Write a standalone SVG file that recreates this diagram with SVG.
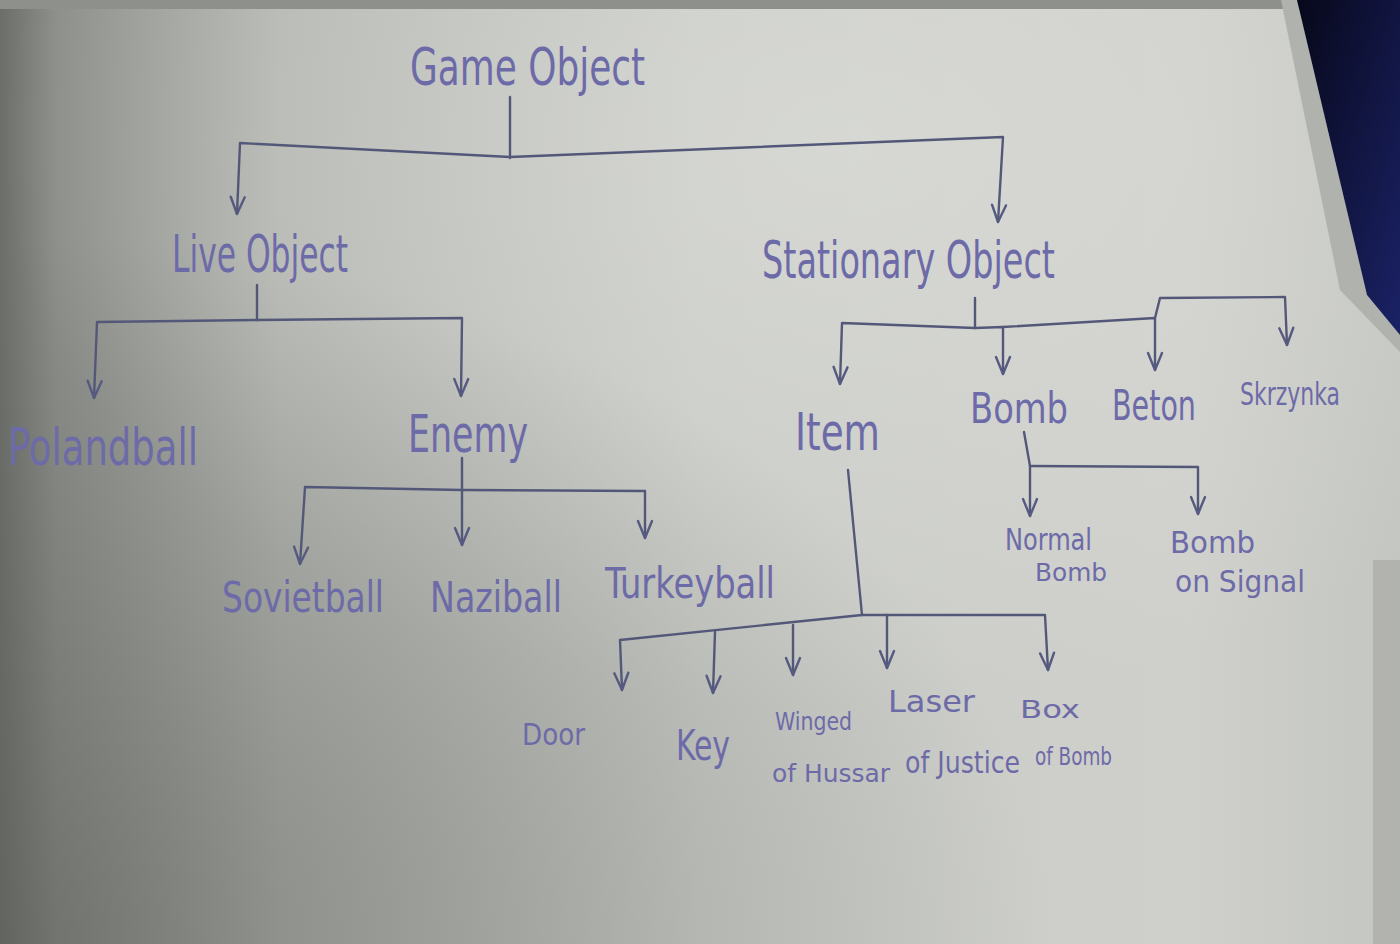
<svg xmlns="http://www.w3.org/2000/svg" width="1400" height="944" viewBox="0 0 1400 944">
<defs>
<linearGradient id="paperH" x1="0" y1="0" x2="1" y2="0">
<stop offset="0" stop-color="#6c6e6a"/>
<stop offset="0.04" stop-color="#8c8e8a"/>
<stop offset="0.2" stop-color="#b4b6b1"/>
<stop offset="0.5" stop-color="#c9cbc7"/>
<stop offset="0.85" stop-color="#cfd0cc"/>
<stop offset="1" stop-color="#c4c6c2"/>
</linearGradient>
<radialGradient id="shadeBL" cx="0" cy="1" r="0.75" gradientUnits="objectBoundingBox">
<stop offset="0" stop-color="#5a5c58" stop-opacity="0.55"/>
<stop offset="1" stop-color="#5a5c58" stop-opacity="0"/>
</radialGradient>
<radialGradient id="lightTop" cx="0.6" cy="0.15" r="0.6">
<stop offset="0" stop-color="#e2e3df" stop-opacity="0.5"/>
<stop offset="1" stop-color="#e2e3df" stop-opacity="0"/>
</radialGradient>
<linearGradient id="navy" x1="0" y1="0" x2="1" y2="1">
<stop offset="0" stop-color="#07081a"/>
<stop offset="1" stop-color="#1b2266"/>
</linearGradient>
<marker id="ah" markerUnits="userSpaceOnUse" markerWidth="40" markerHeight="40" refX="0" refY="0" orient="auto" overflow="visible">
<path d="M -17 -7 L 0 0 L -17 7" fill="none" stroke="#565a80" stroke-width="2.4" stroke-linecap="round" stroke-linejoin="round"/>
</marker>
</defs>
<style>
.ln{fill:none;stroke:#545878;stroke-width:2.4;stroke-linecap:round;stroke-linejoin:round}
.ar{marker-end:url(#ah)}
text{font-family:"Liberation Sans Narrow","DejaVu Sans Condensed","DejaVu Sans",sans-serif;fill:#6d6aa8;font-stretch:condensed}
.big{font-size:52px}
.mid{font-size:42px}
.sm{font-size:30px}
.xs{font-size:25px}
</style>

<!-- background paper -->
<rect x="0" y="0" width="1400" height="944" fill="url(#paperH)"/>
<rect x="0" y="0" width="1400" height="944" fill="url(#lightTop)"/>
<rect x="0" y="0" width="1400" height="944" fill="url(#shadeBL)"/>
<rect x="0" y="0" width="1400" height="9" fill="#8e908b"/>
<rect x="1373" y="560" width="27" height="384" fill="#a9aba7" opacity="0.7"/>
<polygon points="1281,0 1297,0 1367,295 1400,335 1400,352 1340,290" fill="#b0b2ae"/>
<polygon points="1297,0 1400,0 1400,335 1367,295" fill="url(#navy)"/>

<g id="connectors">
<path class="ln" d="M510 97 L510 158"/>
<path class="ln ar" d="M510 157 L240 143 L237 214"/>
<path class="ln ar" d="M510 157 L1003 137 L998 222"/>
<path class="ln" d="M257 285 L257 320"/>
<path class="ln ar" d="M257 320 L97 322 L94 398"/>
<path class="ln ar" d="M257 320 L462 318 L461 396"/>
<path class="ln" d="M462 458 L462 490"/>
<path class="ln ar" d="M462 490 L305 487 L300 564"/>
<path class="ln ar" d="M462 490 L462 545"/>
<path class="ln ar" d="M462 490 L645 491 L645 538"/>
<path class="ln" d="M975 298 L975 328"/>
<path class="ln ar" d="M975 328 L842 323 L840 384"/>
<path class="ln ar" d="M975 328 L1003 327 L1003 374"/>
<path class="ln ar" d="M1003 327 L1155 318 L1155 370"/>
<path class="ln ar" d="M1155 318 L1160 298 L1285 297 L1287 345"/>
<path class="ln" d="M1024 432 L1030 466"/>
<path class="ln ar" d="M1030 466 L1030 516"/>
<path class="ln ar" d="M1030 466 L1198 467 L1198 514"/>
<path class="ln" d="M848 470 L862 615"/>
<path class="ln ar" d="M862 615 L620 640 L622 690"/>
<path class="ln ar" d="M715 632 L713 693"/>
<path class="ln ar" d="M793 625 L793 675"/>
<path class="ln ar" d="M887 615 L887 668"/>
<path class="ln ar" d="M862 615 L1045 615 L1048 670"/>
</g>

<g id="game-object"><text class="big" x="410" y="85" textLength="235" lengthAdjust="spacingAndGlyphs">Game Object</text></g>
<g id="live-object"><text class="big" x="172" y="272" textLength="176" lengthAdjust="spacingAndGlyphs">Live Object</text></g>
<g id="stationary-object"><text class="big" x="762" y="278" textLength="293" lengthAdjust="spacingAndGlyphs">Stationary Object</text></g>
<g id="polandball"><text class="big" x="8" y="465" textLength="190" lengthAdjust="spacingAndGlyphs">Polandball</text></g>
<g id="enemy"><text class="big" x="408" y="452" textLength="120" lengthAdjust="spacingAndGlyphs">Enemy</text></g>
<g id="sovietball"><text class="mid" x="222" y="612" textLength="162" lengthAdjust="spacingAndGlyphs">Sovietball</text></g>
<g id="naziball"><text class="mid" x="430" y="612" textLength="132" lengthAdjust="spacingAndGlyphs">Naziball</text></g>
<g id="turkeyball"><text class="mid" x="605" y="598" textLength="170" lengthAdjust="spacingAndGlyphs">Turkeyball</text></g>
<g id="item"><text class="big" x="795" y="450" textLength="85" lengthAdjust="spacingAndGlyphs">Item</text></g>
<g id="bomb"><text class="mid" x="970" y="423" textLength="98" lengthAdjust="spacingAndGlyphs">Bomb</text></g>
<g id="beton"><text class="mid" x="1112" y="420" textLength="84" lengthAdjust="spacingAndGlyphs">Beton</text></g>
<g id="skrzynka"><text x="1240" y="405" font-size="32" textLength="100" lengthAdjust="spacingAndGlyphs">Skrzynka</text></g>
<g id="normal-bomb">
<text class="sm" x="1005" y="550" textLength="87" lengthAdjust="spacingAndGlyphs">Normal</text>
<text class="xs" x="1035" y="581" textLength="72" lengthAdjust="spacingAndGlyphs">Bomb</text>
</g>
<g id="bomb-on-signal">
<text class="sm" x="1170" y="553" textLength="85" lengthAdjust="spacingAndGlyphs">Bomb</text>
<text class="sm" x="1175" y="592" textLength="130" lengthAdjust="spacingAndGlyphs">on Signal</text>
</g>
<g id="door"><text class="sm" x="522" y="745" textLength="63" lengthAdjust="spacingAndGlyphs">Door</text></g>
<g id="key"><text class="mid" x="676" y="760" textLength="54" lengthAdjust="spacingAndGlyphs">Key</text></g>
<g id="winged-of-hussar">
<text class="xs" x="775" y="730" textLength="77" lengthAdjust="spacingAndGlyphs">Winged</text>
<text class="xs" x="772" y="782" textLength="118" lengthAdjust="spacingAndGlyphs">of Hussar</text>
</g>
<g id="laser-of-justice">
<text class="sm" x="888" y="712" textLength="87" lengthAdjust="spacingAndGlyphs">Laser</text>
<text class="sm" x="905" y="773" textLength="115" lengthAdjust="spacingAndGlyphs">of Justice</text>
</g>
<g id="box-of-bomb">
<text class="xs" x="1020" y="718" textLength="60" lengthAdjust="spacingAndGlyphs">Box</text>
<text class="xs" x="1035" y="765" textLength="77" lengthAdjust="spacingAndGlyphs">of Bomb</text>
</g>
</svg>
